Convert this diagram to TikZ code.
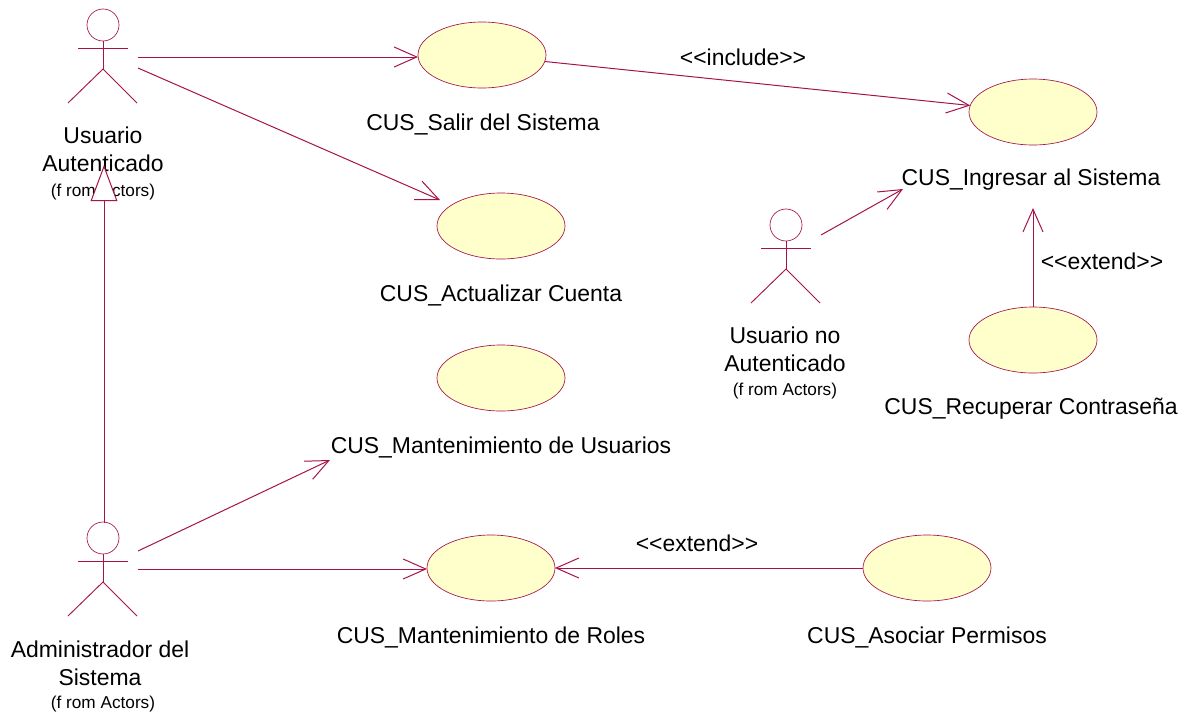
\documentclass[tikz,border=0pt]{standalone}
\usepackage{fontspec}
\setmainfont{Liberation Sans}
\usetikzlibrary{arrows.meta,shapes.geometric}
\definecolor{rose}{HTML}{A5134A}
\definecolor{usecase}{HTML}{FFFFCC}
\tikzset{
  ucase/.style={ellipse,draw=rose,fill=usecase,line width=0.5pt,minimum width=96pt,minimum height=49.5pt,inner sep=0pt,outer sep=0pt},
  lab/.style={inner sep=0pt,outer sep=0pt,align=center,font=\fontsize{17.2}{21}\selectfont,text=black},
  from/.style={inner sep=0pt,outer sep=0pt,font=\fontsize{12.9}{14}\selectfont,text=black},
  actorline/.style={draw=rose,line width=0.7pt},
  assoc/.style={draw=rose,line width=0.75pt,-{Straight Barb[length=17pt,width=15pt,line width=0.75pt]}},
  gener/.style={draw=rose,line width=0.75pt,-{Triangle[open,fill=white,length=27pt,width=20pt,line width=0.75pt]}},
}
\newcommand{\stickman}[2]{%
  \begin{scope}[shift={(#1,#2)}]
    \draw[actorline,line width=0.5pt] (0,0) circle (12pt);
    \draw[actorline] (0,16) -- (0,44);
    \draw[actorline] (-25,23) -- (25,23);
    \draw[actorline] (-35,78) -- (0,44) -- (34,78);
  \end{scope}}
\begin{document}
\begin{tikzpicture}[x=0.75pt,y=-0.75pt]
\useasboundingbox (0,0) rectangle (1196,715);
% use cases
\node[ucase] (salir) at (482,55) {};
\node[ucase] (ingresar) at (1033,112) {};
\node[ucase] (actualizar) at (501,226) {};
\node[ucase] (musuarios) at (501,378) {};
\node[ucase] (mroles) at (491,568) {};
\node[ucase] (asociar) at (927,568) {};
\node[ucase] (recuperar) at (1033,340) {};
% labels
\node[lab] (lsalir) at (483,124) {CUS\_Salir del Sistema};
\node[lab] (lingresar) at (1031,180) {CUS\_Ingresar al Sistema};
\node[lab] (lactualizar) at (501,295) {CUS\_Actualizar Cuenta};
\node[lab] (lmusuarios) at (501,447) {CUS\_Mantenimiento de Usuarios};
\node[lab] (lmroles) at (491,637) {CUS\_Mantenimiento de Roles};
\node[lab] (lasociar) at (927,637) {CUS\_Asociar Permisos};
\node[lab] (lrecuperar) at (1031,409) {CUS\_Recuperar Contraseña};
\node[lab] (linclude) at (743,57) {<{}<include>{}>};
\node[lab] (lext1) at (1102,261) {<{}<extend>{}>};
\node[lab] (lext2) at (697,543) {<{}<extend>{}>};
% actors
\stickman{103}{25}
\stickman{103}{538}
\stickman{786}{225}
\node[lab] (a1) at (103,149) {Usuario\\Autenticado};
\node[from] (a1f) at (103,192) {(f rom Actors)};
\node[lab] (a2) at (100,663) {Administrador del\\Sistema};
\node[from] (a2f) at (103,704) {(f rom Actors)};
\node[lab] (a3) at (785,349) {Usuario no\\Autenticado};
\node[from] (a3f) at (785,391) {(f rom Actors)};
% connector ends
\coordinate (a1r) at (138,57);
\coordinate (a1d) at (138,68);
\coordinate (a1t) at (440,200);
\coordinate (a1b) at (104,165);
\coordinate (a2t) at (104,523);
\coordinate (a2u) at (138,551);
\coordinate (a2r) at (138,569);
\coordinate (a3u) at (821,235);
\coordinate (ting) at (903,189);
\coordinate (tlab) at (1033,208);
\coordinate (tusu) at (330,460);
% connectors
\draw[assoc] (a1r) -- (a1r -| salir.west);
\draw[assoc] (a1d) -- (a1t);
\draw[assoc] (salir) -- (ingresar);
\draw[assoc] (a3u) -- (ting);
\draw[assoc] (recuperar.north) -- (tlab);
\draw[assoc] (a2u) -- (tusu);
\draw[assoc] (a2r) -- (a2r -| mroles.west);
\draw[assoc] (asociar.west) -- (mroles.east);
\draw[gener] (a2t) -- (a1b);
\end{tikzpicture}
\end{document}
